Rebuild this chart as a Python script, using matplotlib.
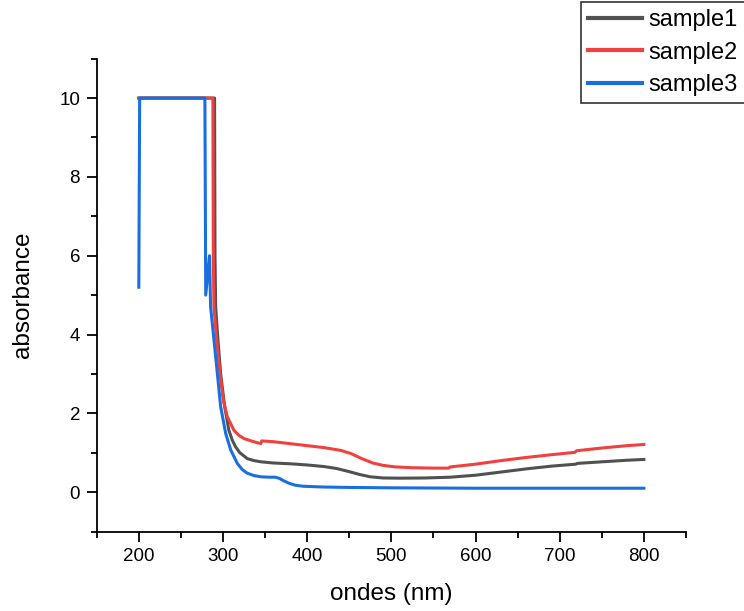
import numpy as np
import matplotlib
matplotlib.use("Agg")
import matplotlib.pyplot as plt
from matplotlib.ticker import MultipleLocator

plt.rcParams['font.family'] = ['Liberation Sans', 'DejaVu Sans']

# sample1 (black)
wl1 = [200, 290, 290.5, 291.3, 294, 297.2, 302, 307, 311, 315, 320, 329, 337, 345, 360,
       380, 400, 420, 435, 450, 462, 475, 490, 510, 540, 570, 600, 630, 660, 690,
       719, 721, 750, 780, 800]
abs1 = [10, 10, 6.0, 4.7, 3.86, 3.01, 2.17, 1.57, 1.32, 1.15, 1.0, 0.85, 0.8, 0.77, 0.74,
        0.72, 0.69, 0.65, 0.60, 0.52, 0.45, 0.39, 0.36, 0.355, 0.36, 0.38, 0.43, 0.51, 0.59, 0.66,
        0.71, 0.73, 0.77, 0.81, 0.83]

# sample2 (red)
wl2 = [200, 288, 288.5, 289.3, 292.5, 296.4, 300.4, 305.2, 313, 319, 325, 335, 345, 346,
       360, 380, 400, 420, 440, 452, 465, 478, 490, 505, 525, 550, 568, 570, 600, 630,
       660, 690, 718, 720, 750, 780, 800]
abs2 = [10, 10, 6.0, 4.7, 3.86, 3.01, 2.33, 1.91, 1.57, 1.44, 1.36, 1.29, 1.23, 1.30,
        1.28, 1.23, 1.18, 1.13, 1.06, 0.98, 0.85, 0.74, 0.68, 0.64, 0.62, 0.61, 0.61, 0.64, 0.71, 0.80,
        0.88, 0.95, 1.01, 1.05, 1.12, 1.18, 1.21]

# sample3 (blue)
wl3 = [200, 201, 278.5, 279.5, 284, 285.3, 289.3, 293.3, 297.2, 303.2, 309.2, 317, 323,
       329, 337, 345, 355, 362, 367, 372, 378, 385, 395, 420, 450, 500, 600, 700, 800]
abs3 = [5.2, 10, 10, 5.0, 6.0, 4.7, 3.86, 3.01, 2.17, 1.49, 1.07, 0.73, 0.57,
        0.48, 0.42, 0.39, 0.38, 0.38, 0.35, 0.29, 0.23, 0.18, 0.15, 0.13, 0.12, 0.11, 0.10, 0.10, 0.10]

fig = plt.figure(figsize=(7.44, 6.11), dpi=100)
ax = fig.add_axes([0.130, 0.130, 0.792, 0.774])

l1, = ax.plot(wl1, abs1, color='#515151', lw=2.2, label='sample1')
l2, = ax.plot(wl2, abs2, color='#F14040', lw=2.2, label='sample2')
l3, = ax.plot(wl3, abs3, color='#1A6FDF', lw=2.2, label='sample3')

ax.set_xlim(150, 850)
ax.set_ylim(-1, 11)
ax.xaxis.set_major_locator(MultipleLocator(100))
ax.xaxis.set_minor_locator(MultipleLocator(50))
ax.yaxis.set_major_locator(MultipleLocator(2))
ax.yaxis.set_minor_locator(MultipleLocator(1))
ax.set_xticks([200, 300, 400, 500, 600, 700, 800])

for s in ['top', 'right']:
    ax.spines[s].set_visible(False)
for s in ['left', 'bottom']:
    ax.spines[s].set_linewidth(1.3)
ax.tick_params(which='major', direction='out', length=7, width=1.3, labelsize=13.5, pad=5)
ax.tick_params(which='minor', direction='out', length=4, width=1.3)

ax.set_xlabel('ondes (nm)', fontsize=17.5, labelpad=13)
ax.set_ylabel('absorbance', fontsize=17.5, labelpad=18)

leg = fig.legend(handles=[l1, l2, l3], loc='upper left', bbox_to_anchor=(581 / 744, 1 - 2 / 611),
                 fontsize=17, frameon=True, fancybox=False, edgecolor='black',
                 handlelength=2.3, handletextpad=0.25, borderpad=0.3, labelspacing=0.45,
                 borderaxespad=0, shadow=False)
leg.get_frame().set_linewidth(1.2)
for h in leg.get_lines():
    h.set_linewidth(3)

fig.savefig('out.png', dpi=100)
